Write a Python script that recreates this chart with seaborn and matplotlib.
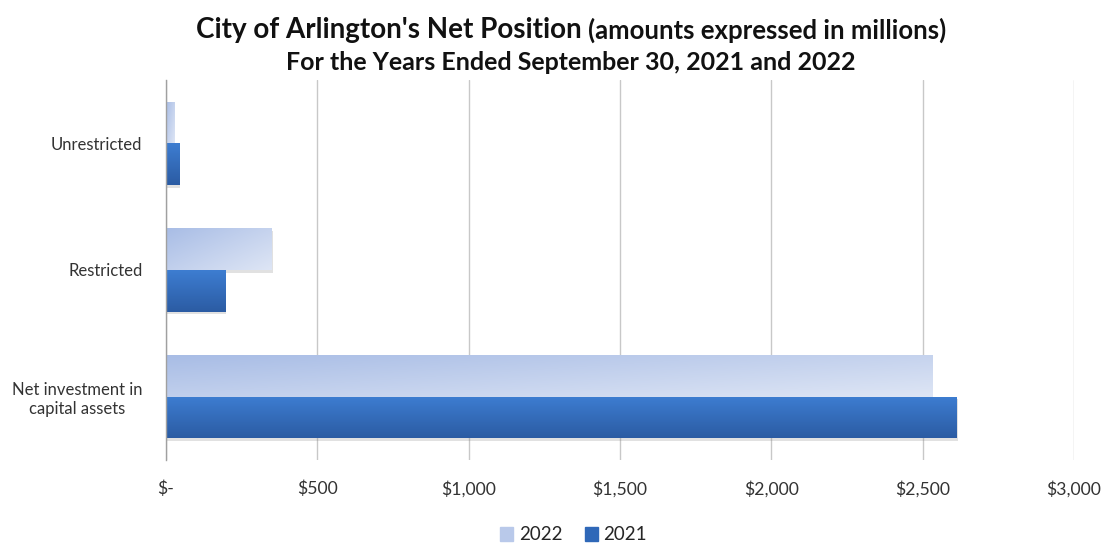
import numpy as np
import pandas as pd
import matplotlib.pyplot as plt
import matplotlib.patches as mpatches
import seaborn as sns

categories = ["Unrestricted", "Restricted", "Net investment in\ncapital assets"]
years = ["2022", "2021"]
values_2022 = [27, 350, 2531]
values_2021 = [43, 195, 2613]
tick_values = [0, 500, 1000, 1500, 2000, 2500, 3000]
tick_labels = ["$-", "$500", "$1,000", "$1,500", "$2,000", "$2,500", "$3,000"]

df = pd.DataFrame({
    "category": categories * 2,
    "year": ["2022"] * 3 + ["2021"] * 3,
    "value": values_2022 + values_2021,
})

sns.set_style("white")
plt.rcParams["font.family"] = ["Lato", "DejaVu Sans"]

fig = plt.figure(figsize=(11.07, 5.44), dpi=100)
ax = fig.add_axes([166 / 1107, 84 / 544, 908 / 1107, 380 / 544])

sns.barplot(data=df, y="category", x="value", hue="year", hue_order=years,
            order=categories, orient="h", width=0.66, ax=ax, legend=False,
            saturation=1, linewidth=0)

ax.set_xlim(0, 3000)
ax.set_ylim(2.5, -0.5)

# gradient fills
light = np.array([[0.66, 0.74, 0.90], [0.87, 0.90, 0.96]])
dark = np.array([[0.24, 0.49, 0.82], [0.17, 0.36, 0.64]])

for i, patch in enumerate(list(ax.patches)):
    x0, y0 = patch.get_x(), patch.get_y()
    w, h = patch.get_width(), patch.get_height()
    if i < 3:
        # diagonal light gradient
        gx = np.linspace(0, 1, 200)[None, :]
        gy = np.linspace(0, 1, 50)[:, None]
        t = np.clip(0.55 * gx + 0.45 * gy, 0, 1)
        c0, c1 = light
    else:
        t = np.repeat(np.linspace(0, 1, 50)[:, None], 200, axis=1)
        c0, c1 = dark
    img = c0[None, None, :] * (1 - t[..., None]) + c1[None, None, :] * t[..., None]
    # shadow
    sh = mpatches.Rectangle((x0 + 4, y0 + 0.02), w, h, color="#888888",
                            alpha=0.25, lw=0, zorder=1.5)
    ax.add_patch(sh)
    im = ax.imshow(img, extent=(x0, x0 + w, y0 + h, y0), aspect="auto",
                   zorder=2, interpolation="bilinear")
    im.set_clip_path(patch)
    patch.set_facecolor("none")
    patch.set_zorder(2)

ax.set_xlim(0, 3000)
ax.set_ylim(2.5, -0.5)

ax.set_xticks(tick_values)
ax.set_xticklabels(tick_labels, fontsize=12.7, color="#333333")
ax.tick_params(axis="x", length=0, pad=15)
ax.tick_params(axis="y", length=0, pad=17)
for lab in ax.get_yticklabels():
    lab.set_fontsize(12)
    lab.set_color("#333333")
    lab.set_horizontalalignment("right")
    lab.set_multialignment("center")
ax.set_xlabel("")
ax.set_ylabel("")

ax.grid(axis="x", color="#c8c8c8", linewidth=1)
ax.set_axisbelow(True)
for s in ["top", "right", "bottom"]:
    ax.spines[s].set_visible(False)
ax.spines["left"].set_color("#a0a0a0")
ax.spines["left"].set_linewidth(1)
ax.spines["left"].set_zorder(3)

# title, first line in two sizes, centred together
y1 = 1 - 30 / 544
t1 = fig.text(0, y1, "City of Arlington's Net Position", fontsize=20,
              fontweight="bold", ha="left", va="center", color="#111111")
t2 = fig.text(0, y1, "(amounts expressed in millions)", fontsize=18.5,
              fontweight="bold", ha="left", va="center", color="#111111")
fig.canvas.draw()
w1 = t1.get_window_extent().width
w2 = t2.get_window_extent().width
gap = 7
start = 571 - (w1 + gap + w2) / 2
t1.set_x(start / 1107)
t2.set_x((start + w1 + gap) / 1107)
fig.text(571 / 1107, 1 - 62 / 544, "For the Years Ended September 30, 2021 and 2022",
         fontsize=18, fontweight="bold", ha="center", va="center", color="#111111")

handles = [mpatches.Patch(color="#b9c9ea", label="2022"),
           mpatches.Patch(color="#2f68b8", label="2021")]
fig.legend(handles=handles, loc="center", bbox_to_anchor=(0.518, 1 - 535 / 544),
           ncol=2, frameon=False, fontsize=13.5, handlelength=0.7, handleheight=0.7,
           handletextpad=0.3, columnspacing=1.2)

fig.savefig("out.png", dpi=100)
